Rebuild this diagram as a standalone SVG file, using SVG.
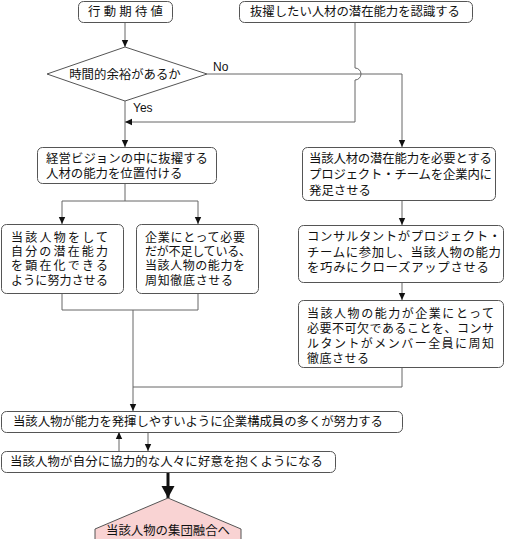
<svg xmlns="http://www.w3.org/2000/svg" width="508" height="539" viewBox="0 0 508 539">
<style>
.box{fill:#fff;stroke:#555;stroke-width:1}
.t{font-family:"Noto Sans CJK JP","Noto Sans CJK SC",sans-serif;font-size:12.4px;fill:#111}
.s{font-size:12px}
.lat{font-family:"Liberation Sans",sans-serif;font-size:12px;fill:#111}
.ln{fill:none;stroke:#666;stroke-width:1}
</style>
<defs>
<marker id="ah" markerUnits="userSpaceOnUse" markerWidth="8" markerHeight="8" refX="7" refY="4" orient="auto">
<path d="M0,0.8 L7,4 L0,7.2 Z" fill="#111"/>
</marker>
<marker id="ahb" markerUnits="userSpaceOnUse" markerWidth="14" markerHeight="14" refX="12" refY="7" orient="auto">
<path d="M0,0.5 L12,7 L0,13.5 Z" fill="#111"/>
</marker>
</defs>
<rect width="508" height="539" fill="#fff"/>
<g id="connectors">
<path class="ln" d="M125,22 V47" marker-end="url(#ah)"/>
<path class="ln" d="M207,74 H402 V147" marker-end="url(#ah)"/>
<path class="ln" d="M355,22 V68 A6,6 0 0 1 355,80 V122 H125" marker-end="url(#ah)"/>
<path class="ln" d="M125,101 V147" marker-end="url(#ah)"/>
<path class="ln" d="M125,183 V201 M62,201 H198"/>
<path class="ln" d="M62,201 V224" marker-end="url(#ah)"/>
<path class="ln" d="M198,201 V224" marker-end="url(#ah)"/>
<path class="ln" d="M62,293 V310 H198 V293"/>
<path class="ln" d="M133,310 V411" marker-end="url(#ah)"/>
<path class="ln" d="M402,200 V225" marker-end="url(#ah)"/>
<path class="ln" d="M402,282 V300" marker-end="url(#ah)"/>
<path class="ln" d="M402,367 V387 H133"/>
<path class="ln" d="M119,451 V432" marker-end="url(#ah)"/>
<path class="ln" d="M148,432 V451" marker-end="url(#ah)"/>
<path d="M168,472 V498" fill="none" stroke="#111" stroke-width="3" marker-end="url(#ahb)"/>
<text class="lat" x="213" y="71">No</text>
<text class="lat" x="133" y="112">Yes</text>
</g>
<g id="n1">
<rect class="box" x="78.5" y="1.5" width="94" height="21" rx="5"/>
<text class="t" x="88" y="16" textLength="75" lengthAdjust="spacing">行動期待値</text>
</g>
<g id="n2">
<rect class="box" x="239.5" y="1.5" width="233" height="21" rx="5"/>
<text class="t" x="250" y="16" textLength="210" lengthAdjust="spacing">抜擢したい人材の潜在能力を認識する</text>
</g>
<g id="n3">
<polygon class="box" points="125,47 207,74 125,101 47,74"/>
<text class="t" x="125" y="78.5" text-anchor="middle">時間的余裕があるか</text>
</g>
<g id="n4">
<rect class="box" x="37.5" y="147.5" width="179" height="36" rx="5"/>
<text class="t" x="46" y="162.5" textLength="162" lengthAdjust="spacing">経営ビジョンの中に抜擢する</text>
<text class="t" x="46" y="177.5">人材の能力を位置付ける</text>
</g>
<g id="n5">
<rect class="box" x="1.5" y="224.5" width="122" height="69" rx="5"/>
<text class="t s" x="11" y="241.5" textLength="97" lengthAdjust="spacing">当該人物をして</text>
<text class="t s" x="11" y="255.5" textLength="97" lengthAdjust="spacing">自分の潜在能力</text>
<text class="t s" x="11" y="269.5" textLength="97" lengthAdjust="spacing">を顕在化できる</text>
<text class="t s" x="11" y="284.5" textLength="97" lengthAdjust="spacing">ように努力させる</text>
</g>
<g id="n6">
<rect class="box" x="136.5" y="224.5" width="122" height="69" rx="5"/>
<text class="t s" x="145" y="241.5" textLength="100" lengthAdjust="spacing">企業にとって必要</text>
<text class="t s" x="145" y="255.5" textLength="106" lengthAdjust="spacing">だが不足している、</text>
<text class="t s" x="145" y="269.5" textLength="100" lengthAdjust="spacing">当該人物の能力を</text>
<text class="t s" x="145" y="284.5" textLength="88" lengthAdjust="spacing">周知徹底させる</text>
</g>
<g id="n7">
<rect class="box" x="302.5" y="147.5" width="193" height="53" rx="5"/>
<text class="t" x="309" y="162.5" textLength="183" lengthAdjust="spacing">当該人材の潜在能力を必要とする</text>
<text class="t" x="309" y="178.5" textLength="183" lengthAdjust="spacing">プロジェクト・チームを企業内に</text>
<text class="t" x="309" y="194.5">発足させる</text>
</g>
<g id="n8">
<rect class="box" x="298.5" y="225.5" width="205" height="57" rx="5"/>
<text class="t" x="307" y="240.5" textLength="194" lengthAdjust="spacing">コンサルタントがプロジェクト・</text>
<text class="t" x="307" y="256.5" textLength="194" lengthAdjust="spacing">チームに参加し、当該人物の能力</text>
<text class="t" x="307" y="271.5" textLength="182" lengthAdjust="spacing">を巧みにクローズアップさせる</text>
</g>
<g id="n9">
<rect class="box" x="298.5" y="300.5" width="205" height="67" rx="5"/>
<text class="t s" x="307" y="317.5" textLength="187" lengthAdjust="spacing">当該人物の能力が企業にとって</text>
<text class="t s" x="307" y="332.5" textLength="187" lengthAdjust="spacing">必要不可欠であることを、コンサ</text>
<text class="t s" x="307" y="347.5" textLength="187" lengthAdjust="spacing">ルタントがメンバー全員に周知</text>
<text class="t s" x="307" y="362.5" textLength="62" lengthAdjust="spacing">徹底させる</text>
</g>
<g id="n10">
<rect class="box" x="1.5" y="411.5" width="401" height="21" rx="5"/>
<text class="t" x="13" y="426" textLength="370" lengthAdjust="spacing">当該人物が能力を発揮しやすいように企業構成員の多くが努力する</text>
</g>
<g id="n11">
<rect class="box" x="1.5" y="451.5" width="334" height="21" rx="5"/>
<text class="t" x="10" y="466" textLength="313" lengthAdjust="spacing">当該人物が自分に協力的な人々に好意を抱くようになる</text>
</g>
<g id="n12">
<polygon points="168,498 95,529 95,545 241,545 241,529" fill="#f9d3d3" stroke="#555" stroke-width="1"/>
<text class="t" x="168" y="535" text-anchor="middle">当該人物の集団融合へ</text>
</g>
</svg>
